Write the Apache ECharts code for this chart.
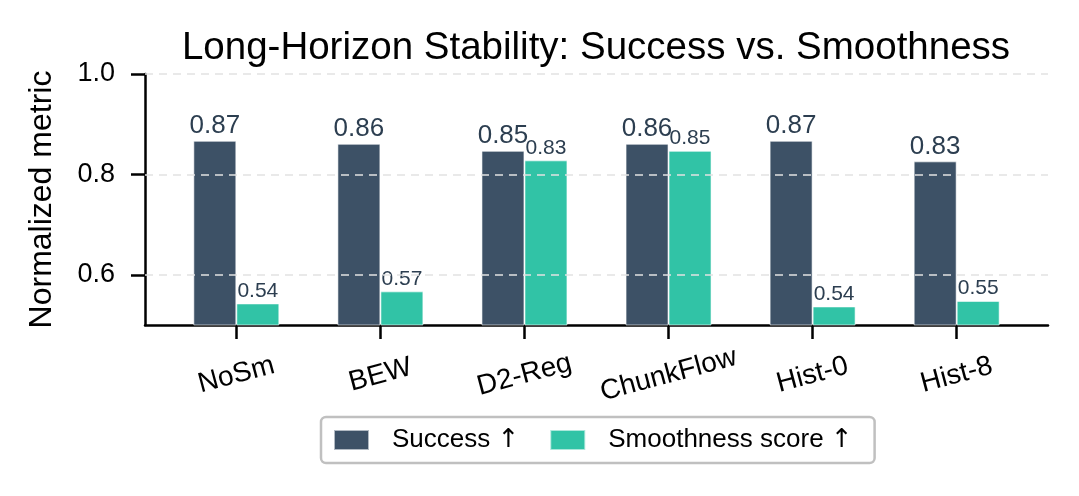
<!DOCTYPE html>
<html>
<head>
<meta charset="utf-8">
<script src="https://cdn.jsdelivr.net/npm/echarts@6/dist/echarts.min.js"></script>
<style>
  html, body { margin: 0; padding: 0; background: #fff; }
  #chart { width: 1079px; height: 496px; }
</style>
</head>
<body>
<div id="chart"></div>
<script>
const methods = ['NoSm', 'BEW', 'D2-Reg', 'ChunkFlow', 'Hist-0', 'Hist-8']
const success = [0.867, 0.861, 0.847, 0.861, 0.867, 0.826]
const smoothness = [0.543, 0.567, 0.828, 0.847, 0.537, 0.548]
const yTicks = [0.6, 0.8, 1.0]

const font = 'Liberation Sans, Arial, sans-serif'
const darkColor = '#3d5166'
const tealColor = '#31c3a6'
const labelColor = '#2c3e50'

const chart = echarts.init(document.getElementById('chart'))

// bars sit on a value x axis so the outer margins match the original
const toPoints = arr => arr.map((v, i) => [i, v])
const xTicks = methods.map((m, i) => i)

chart.setOption({
  animation: false,
  title: {
    text: 'Long-Horizon Stability: Success vs. Smoothness',
    left: 591,
    top: 24,
    textAlign: 'center',
    textStyle: { fontFamily: font, fontSize: 38.5, fontWeight: 'normal', color: '#000' }
  },
  legend: {
    left: 321,
    top: 417,
    itemWidth: 35,
    itemHeight: 20,
    itemGap: 30,
    padding: [10, 22, 10, 12],
    borderColor: '#c0c0c0',
    borderWidth: 2.5,
    borderRadius: 5,
    backgroundColor: '#fff',
    formatter: name => name.replace('↑', '{arrow|↑}'),
    textStyle: {
      fontFamily: font,
      fontSize: 26,
      color: '#000',
      padding: [0, 0, 0, 18],
      rich: {
        arrow: { fontFamily: 'DejaVu Sans', fontSize: 26, color: '#000' }
      }
    },
    data: [
      { name: 'Success ↑', icon: 'rect' },
      { name: 'Smoothness score ↑', icon: 'rect' }
    ]
  },
  grid: { left: 145, right: 31, top: 74, bottom: 171 },
  xAxis: {
    type: 'value',
    min: -0.634,
    max: 5.634,
    splitLine: { show: false },
    axisLine: { show: true, onZero: false, lineStyle: { color: '#000', width: 2.5 } },
    axisTick: { show: true, length: 14, lineStyle: { color: '#000', width: 2.5 }, customValues: xTicks },
    axisLabel: {
      customValues: xTicks,
      formatter: v => methods[Math.round(v)] || '',
      rotate: 15,
      align: 'center',
      verticalAlign: 'middle',
      margin: 50,
      fontFamily: font,
      fontSize: 28,
      color: '#000'
    }
  },
  yAxis: {
    type: 'value',
    min: 0.5,
    max: 1.0,
    name: 'Normalized metric',
    nameLocation: 'middle',
    nameGap: 87,
    nameTextStyle: { fontFamily: font, fontSize: 32, color: '#000' },
    axisLine: { show: true, onZero: false, lineStyle: { color: '#000', width: 2.5 } },
    axisTick: { show: true, length: 14, lineStyle: { color: '#000', width: 2.5 }, customValues: yTicks },
    axisLabel: {
      customValues: yTicks,
      formatter: v => v.toFixed(1),
      margin: 30,
      fontFamily: font,
      fontSize: 27,
      color: '#000'
    },
    splitLine: { show: false }
  },
  series: [
    {
      name: 'Success ↑',
      type: 'bar',
      data: toPoints(success),
      barWidth: 43,
      barGap: '0%',
      itemStyle: { color: darkColor, borderColor: 'rgba(255,255,255,0.6)', borderWidth: 1 },
      label: {
        show: true,
        position: 'top',
        distance: 2,
        formatter: p => p.value[1].toFixed(2),
        fontFamily: font,
        fontSize: 26,
        color: labelColor
      },
      markLine: {
        silent: true,
        symbol: 'none',
        label: { show: false },
        lineStyle: { color: '#e2e2e2', type: [8, 6], width: 1.5 },
        data: yTicks.map(t => ({ yAxis: t }))
      },
      z: 2
    },
    {
      name: 'Smoothness score ↑',
      type: 'bar',
      data: toPoints(smoothness),
      barWidth: 43,
      barGap: '0%',
      itemStyle: { color: tealColor, borderColor: 'rgba(255,255,255,0.6)', borderWidth: 1 },
      label: {
        show: true,
        position: 'top',
        distance: 2,
        formatter: p => p.value[1].toFixed(2),
        fontFamily: font,
        fontSize: 21,
        color: labelColor
      },
      z: 2
    }
  ]
})
</script>
</body>
</html>
